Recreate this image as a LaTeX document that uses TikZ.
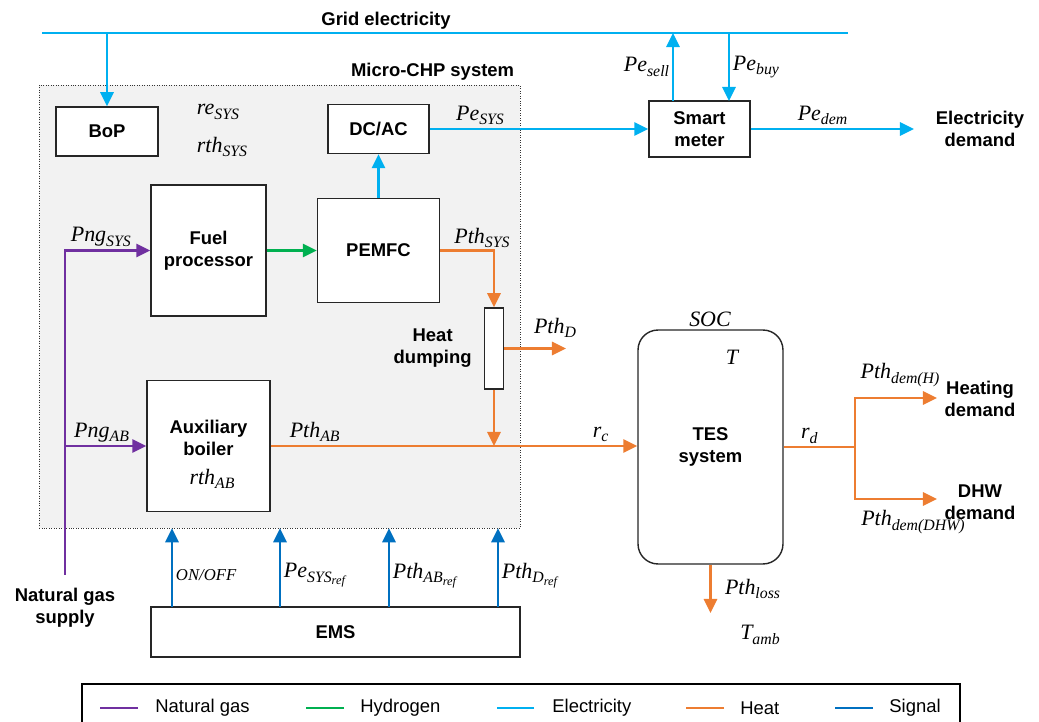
\documentclass[tikz,border=0pt]{standalone}
\usepackage{fontspec}
\setmainfont{Liberation Sans}
\newfontfamily\tmsfont{Liberation Serif}
\usetikzlibrary{arrows.meta, positioning}
\definecolor{gas}{HTML}{7030A0}
\definecolor{htwo}{HTML}{00B050}
\definecolor{elec}{HTML}{00B0F0}
\definecolor{heat}{HTML}{ED7D31}
\definecolor{sig}{HTML}{0070C0}
\newcommand{\vsym}[1]{{\normalfont\tmsfont\itshape #1}}
\newcommand{\vlab}[2]{{\normalfont\tmsfont\itshape #1\raisebox{-0.45ex}{\fontsize{9}{9}\selectfont #2}}}
\newcommand{\reflab}{\raisebox{-0.35ex}{\fontsize{7}{7}\selectfont ref}}

\begin{document}
\begin{tikzpicture}[
    x=0.02cm, y=-0.02cm,
    box/.style={draw=black!85, fill=white, line width=0.8pt, align=center, inner sep=0pt,
                font=\bfseries\fontsize{10.5}{12.5}\selectfont},
    title/.style={align=center, font=\bfseries\fontsize{10.5}{12.5}\selectfont},
    var/.style={inner sep=1.5pt, text=black, font=\fontsize{12.5}{14}\selectfont},
    flow/.style={-{Triangle[length=8pt,width=7.5pt]}, line width=1.5pt},
    legtxt/.style={anchor=west, inner sep=0pt, font=\fontsize{10.5}{12.5}\selectfont},
  ]
    \useasboundingbox (0,0) rectangle (1039,722);

    % micro-CHP frame and grid
    \node[draw=black!80, densely dotted, fill=black!5, inner sep=0pt,
          minimum width=9.62cm, minimum height=8.86cm] (chp) at (279.5,306.5) {};
    \node[title, anchor=base east] (chplab) at ([yshift=0.16cm]chp.north east) {Micro-CHP system};
    \node[title] (grid) at (386,21) {Grid electricity};
    \coordinate (gL) at (42,33);
    \coordinate (gR) at (848,33);

    % components
    \node[box, minimum width=2.04cm, minimum height=0.98cm] (bop) at (107,131.5) {BoP};
    \node[var] (resys) at (218,112) {\vlab{re}{SYS}};
    \node[var] (rthsys) at (222,147) {\vlab{rth}{SYS}};
    \node[box, minimum width=2.02cm, minimum height=0.98cm] (dcac) at (378.5,129) {DC/AC};
    \node[box, minimum width=2.02cm, minimum height=1.12cm] (meter) at (699.5,129) {Smart\\meter};
    \node[title] (edem) at (980,129) {Electricity\\demand};
    \node[box, minimum width=2.30cm, minimum height=2.62cm] (fuel) at (208.5,250.5) {Fuel\\processor};
    \node[box, minimum width=2.44cm, minimum height=2.08cm] (pemfc) at (378.5,250.5) {PEMFC};
    \node[box, minimum width=0.38cm, minimum height=1.62cm] (dump) at (494,348.5) {};
    \node[title, left=0.12cm of dump] (dumplab) {Heat\\dumping};
    \node[box, minimum width=2.46cm, minimum height=2.62cm] (aux) at (208.5,446) {};
    \node[title] (auxlab) at (208.5,438) {Auxiliary\\boiler};
    \node[var] (rthab) at (212,479) {\vlab{rth}{AB}};
    \node[box, rounded corners=0.4cm, minimum width=2.9cm, minimum height=4.68cm] (tes) at (710.5,447) {TES\\system};
    \node[var] (soc) at (710,319) {\vsym{SOC}};
    \node[var] (ttes) at (732,357) {\vsym{T}};
    \node[var] (tamb) at (760,635) {\vlab{T}{amb}};
    \node[title] (heatdem) at (980,399) {Heating\\demand};
    \node[title] (dhwdem) at (980,502) {DHW\\demand};
    \node[var] (pthh) at (900,375) {\vlab{Pth}{dem(H)}};
    \node[var] (pthdhw) at (913,522) {\vlab{Pth}{dem(DHW)}};
    \node[var] (pthdlab) at (555,328) {\vlab{Pth}{D}};
    \node[var] (pthsys) at (482,238) {\vlab{Pth}{SYS}};
    \node[title] (nglab) at (65,608) {Natural gas\\supply};
    \node[box, minimum width=7.38cm, minimum height=1.0cm] (ems) at (335.5,632) {EMS};

    \coordinate (sell) at (673,101);
    \coordinate (buy) at (729,101);
    \coordinate (eout) at (914,129);
    \coordinate (pthd) at (566,348.5);
    \coordinate (ngs) at (65,575);
    \coordinate (split) at (855,447);
    \coordinate (hdem) at (937,398);
    \coordinate (dhw) at (937,499);
    \coordinate (loss) at (710.5,613);
    \coordinate (s1) at (172,607);
    \coordinate (s2) at (280,607);
    \coordinate (s3) at (389,607);
    \coordinate (s4) at (498,607);

    % electricity
    \draw[elec, line width=0.9pt] (gL) -- (gR);
    \draw[flow, elec] (bop.north |- gL) -- (bop.north);
    \draw[flow, elec] (pemfc.north) -- (dcac.south);
    \draw[flow, elec] (dcac.east) -- node[var, above, pos=0.23] {\vlab{Pe}{SYS}} (meter.west);
    \draw[flow, elec] (sell) -- node[var, left] {\vlab{Pe}{sell}} (sell |- gL);
    \draw[flow, elec] (buy |- gL) -- node[var, right] {\vlab{Pe}{buy}} (buy);
    \draw[flow, elec] (meter.east) -- node[var, above, pos=0.44] {\vlab{Pe}{dem}} (eout);

    % gas and hydrogen
    \draw[flow, gas] (ngs) |- node[var, above, pos=0.71] {\vlab{Png}{SYS}} (fuel.west);
    \draw[flow, gas] (ngs |- aux.west) -- node[var, above, pos=0.45] {\vlab{Png}{AB}} (aux.west);
    \draw[flow, htwo] (fuel.east) -- (pemfc.west);

    % heat
    \draw[flow, heat] (pemfc.east) -| (dump.north);
    \draw[flow, heat] (dump.east) -- (pthd);
    \draw[flow, heat] (dump.south) -- (dump.south |- aux.east);
    \draw[flow, heat] (aux.east) -- node[var, above, pos=0.12] {\vlab{Pth}{AB}}
        node[var, above, pos=0.9] {\vlab{r}{c}} (tes.west |- aux.east);
    \draw[heat, line width=1.3pt] (tes.east) -- node[var, above, pos=0.36] {\vlab{r}{d}} (split);
    \draw[flow, heat] (split) |- (hdem);
    \draw[flow, heat] (split) |- (dhw);
    \draw[flow, heat] (tes.south) -- node[var, right=6pt] {\vlab{Pth}{loss}} (loss);

    % signals
    \draw[flow, sig] (s1) -- node[var, right, pos=0.4, font=\fontsize{9.5}{11}\selectfont] {\vsym{ON/OFF}} (s1 |- chp.south);
    \draw[flow, sig] (s2) -- node[var, right, pos=0.4] {\vlab{Pe}{SYS\reflab}} (s2 |- chp.south);
    \draw[flow, sig] (s3) -- node[var, right, pos=0.4] {\vlab{Pth}{AB\reflab}} (s3 |- chp.south);
    \draw[flow, sig] (s4) -- node[var, right, pos=0.4] {\vlab{Pth}{D\reflab}} (s4 |- chp.south);

    % legend
    \node[draw, line width=0.8pt, minimum width=17.56cm, minimum height=1.4cm, inner sep=0pt] (legend) at (521,719) {};
    \node[legtxt] (lgas) at (155,708) {Natural gas};
    \node[legtxt] (lhtwo) at (360,708) {Hydrogen};
    \node[legtxt] (lelec) at (552,708) {Electricity};
    \node[legtxt] (lheat) at (740,708) {Heat};
    \node[legtxt] (lsig) at (889,708) {Signal};
    \draw[gas, line width=1.2pt] ([xshift=-0.34cm]lgas.west) -- ([xshift=-1.1cm]lgas.west);
    \draw[htwo, line width=1.2pt] ([xshift=-0.32cm]lhtwo.west) -- ([xshift=-1.08cm]lhtwo.west);
    \draw[elec, line width=1.2pt] ([xshift=-0.36cm]lelec.west) -- ([xshift=-1.1cm]lelec.west);
    \draw[heat, line width=1.2pt] ([xshift=-0.32cm]lheat.west) -- ([xshift=-1.08cm]lheat.west);
    \draw[sig, line width=1.2pt] ([xshift=-0.32cm]lsig.west) -- ([xshift=-1.08cm]lsig.west);
  \end{tikzpicture}
\end{document}
